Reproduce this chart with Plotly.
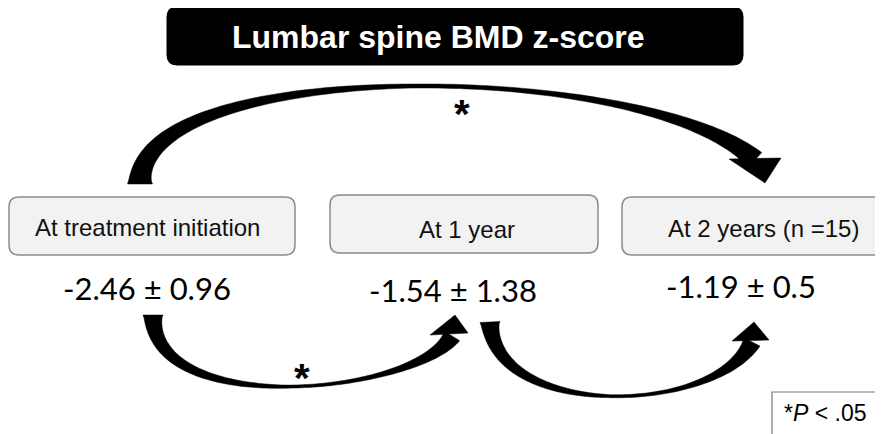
import numpy as np
import plotly.graph_objects as go

# ---- data ----
title_text = "Lumbar spine BMD z-score"
stages = ["At treatment initiation", "At 1 year", "At 2 years (n =15)"]
means = [-2.46, -1.54, -1.19]
sds = [0.96, 1.38, 0.5]
comparisons = [(0, 2, True), (0, 1, True), (1, 2, False)]  # (from, to, significant)
footnote = "*<i>P</i> < .05"

# ---- layout geometry (pixel space of the page) ----
W, H = 883, 434
OFF = 8  # browser body margin compensation
box_x = [(9, 295), (330, 598), (622, 900)]
box_y = [(197, 255), (195, 253), (197, 255)]
label_xy = [(147, 227), (467, 229), (763, 228)]
value_xy = [(147, 288), (453, 290), (741, 286)]

arrow_geom = {
    (0, 2): dict(P=[(140, 184), (140, 55), (645, 60), (755, 160)], w=(25, 4, 20),
                 head=[(729, 159), (765, 183), (781, 158)], star=(462, 114)),
    (0, 1): dict(P=[(153, 315), (153, 420), (416, 394), (452, 336)], w=(20, 3, 18),
                 head=[(430, 335), (455, 315), (468, 333)], star=(302, 378)),
    (1, 2): dict(P=[(490, 322), (495, 420), (715, 415), (752, 342)], w=(20, 3, 18),
                 head=[(732, 341), (754, 322), (769, 340)], star=None),
}


def rounded_rect(x0, y0, x1, y1, r):
    return (f"M{x0+r},{y0} L{x1-r},{y0} Q{x1},{y0} {x1},{y0+r} L{x1},{y1-r} Q{x1},{y1} {x1-r},{y1} "
            f"L{x0+r},{y1} Q{x0},{y1} {x0},{y1-r} L{x0},{y0+r} Q{x0},{y0} {x0+r},{y0} Z")


def tapered_shaft(P, w, n=120):
    P = np.array(P, dtype=float)
    t = np.linspace(0, 1, n)[:, None]
    pts = ((1-t)**3)*P[0] + 3*((1-t)**2)*t*P[1] + 3*(1-t)*t**2*P[2] + t**3*P[3]
    der = 3*((1-t)**2)*(P[1]-P[0]) + 6*(1-t)*t*(P[2]-P[1]) + 3*t**2*(P[3]-P[2])
    der = der / np.linalg.norm(der, axis=1)[:, None]
    nor = np.stack([-der[:, 1], der[:, 0]], axis=1)
    tt = t[:, 0]
    w0, wm, w1 = w
    width = np.where(tt < 0.5, w0 + (wm - w0) * (tt / 0.5) ** 0.55, wm + (w1 - wm) * ((tt - 0.5) / 0.5) ** 2.6)
    left = pts + nor * (width[:, None] / 2)
    right = pts - nor * (width[:, None] / 2)
    poly = list(left) + list(right[::-1])
    return "M" + " L".join(f"{p[0]:.1f},{p[1]:.1f}" for p in poly) + " Z"


def tri(pts):
    return "M" + " L".join(f"{x},{y}" for x, y in pts) + " Z"


fig = go.Figure()
fig.add_trace(go.Scatter(x=[OFF, W + OFF], y=[OFF, H + OFF], mode="markers", marker=dict(opacity=0),
                         hoverinfo="skip", showlegend=False))

shapes = []
annotations = []

# title box
shapes.append(dict(type="path", path=rounded_rect(167, 7, 743, 65, 10), fillcolor="black",
                   line=dict(color="black", width=1), xref="x", yref="y"))
annotations.append(dict(x=438, y=37, text=f"<b>{title_text}</b>", showarrow=False,
                        font=dict(family="Liberation Sans", size=32, color="white"), xref="x", yref="y"))

# stage boxes, labels and values
for i, st in enumerate(stages):
    x0, x1 = box_x[i]
    y0, y1 = box_y[i]
    shapes.append(dict(type="path", path=rounded_rect(x0, y0, x1, y1, 10), fillcolor="#f2f2f2",
                       line=dict(color="#8c8c8c", width=1.5), xref="x", yref="y"))
    lx, ly = label_xy[i]
    annotations.append(dict(x=lx, y=ly, text=st, showarrow=False,
                            font=dict(family="Liberation Sans", size=24, color="#111"), xref="x", yref="y"))
    vx, vy = value_xy[i]
    annotations.append(dict(x=vx, y=vy, text=f"{means[i]} ± {sds[i]}", showarrow=False,
                            font=dict(family="Lato", size=31, color="black"), xref="x", yref="y"))

# arrows
for a, b, sig in comparisons:
    g = arrow_geom[(a, b)]
    shapes.append(dict(type="path", path=tapered_shaft(g["P"], g["w"]), fillcolor="black",
                       line=dict(color="black", width=0.5), xref="x", yref="y"))
    shapes.append(dict(type="path", path=tri(g["head"]), fillcolor="black",
                       line=dict(color="black", width=0.5), xref="x", yref="y"))
    if sig and g["star"]:
        annotations.append(dict(x=g["star"][0], y=g["star"][1], text="<b>*</b>", showarrow=False,
                                font=dict(family="Liberation Sans", size=40, color="black"), xref="x", yref="y"))

# footnote box
shapes.append(dict(type="rect", x0=772, y0=392, x1=900, y1=450, fillcolor="white",
                   line=dict(color="#777", width=1.2), xref="x", yref="y"))
annotations.append(dict(x=825, y=413, text=footnote, showarrow=False,
                        font=dict(family="Liberation Sans", size=23, color="black"), xref="x", yref="y"))

fig.update_layout(
    width=W, height=H, margin=dict(l=0, r=0, t=0, b=0),
    paper_bgcolor="white", plot_bgcolor="white",
    xaxis=dict(range=[OFF, W + OFF], visible=False, fixedrange=True),
    yaxis=dict(range=[H + OFF, OFF], visible=False, fixedrange=True),
    shapes=shapes, annotations=annotations, showlegend=False,
)
fig.write_html("out.html")
